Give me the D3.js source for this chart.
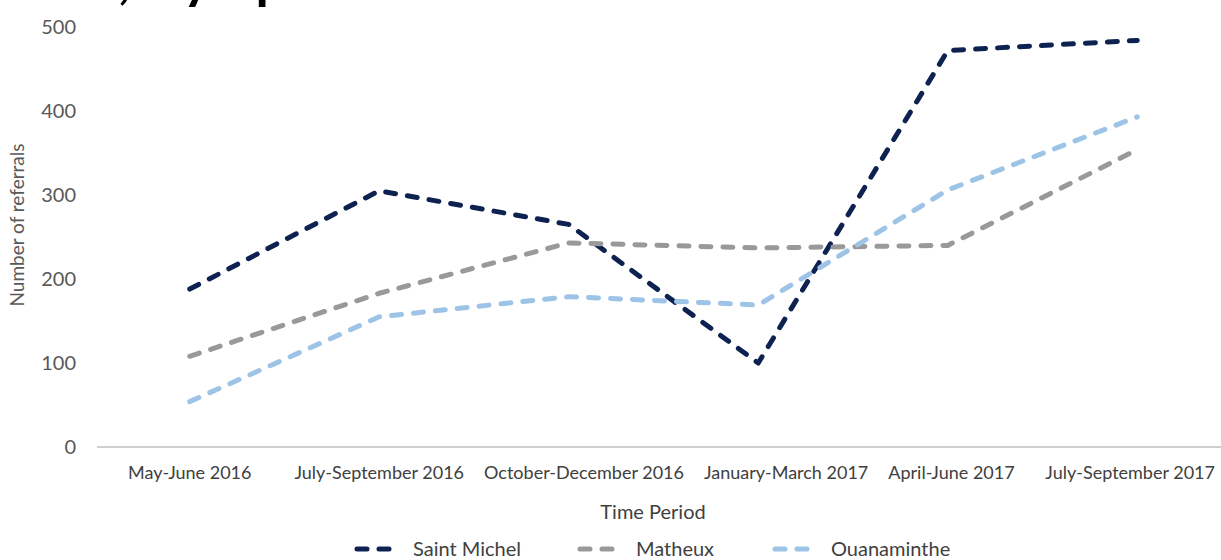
<!DOCTYPE html>
<html>
<head>
<meta charset="utf-8">
<script src="https://cdnjs.cloudflare.com/ajax/libs/d3/7.8.5/d3.min.js"></script>
<style>
  body { margin: 0; background: #fff; }
  svg { display: block; font-family: Lato, "Open Sans", sans-serif; }
</style>
</head>
<body>
<svg id="chart" width="1221" height="560"></svg>
<script>
// data
var periods = ["May-June 2016", "July-September 2016", "October-December 2016",
               "January-March 2017", "April-June 2017", "July-September 2017"];
var saintMichel = [188, 305, 265, 100, 472, 484];
var matheux     = [108, 183, 243, 237, 240, 354];
var ouanaminthe = [54, 155, 179, 169, 306, 393];
var seriesNames = ["Saint Michel", "Matheux", "Ouanaminthe"];
var seriesColors = ["#0e2251", "#999999", "#9dc3e6"];
var yTicks = [0, 100, 200, 300, 400, 500];

var svg = d3.select("#chart");
var W = 1221;

var x = d3.scalePoint().domain(periods).range([95, 1232]).padding(0.5);
var y = d3.scaleLinear().domain([0, 500]).range([447, 27]);

// title, cut off at the top edge as in the source image (only descenders show)
svg.append("text")
    .attr("x", 118).attr("y", -2)
    .attr("text-anchor", "start")
    .style("font-size", "54px").style("font-weight", "bold")
    .style("letter-spacing", "3px").attr("fill", "#000")
    .text(", by specialist");

// y tick labels
svg.selectAll(".ytick").data(yTicks).enter().append("text")
    .attr("class", "ytick")
    .attr("x", 76).attr("y", function(d) { return y(d); })
    .attr("dy", "0.35em")
    .attr("text-anchor", "end")
    .attr("fill", "#595959")
    .style("font-size", "20px")
    .text(function(d) { return d; });

svg.append("text")
    .attr("transform", "translate(24," + 225 + ") rotate(-90)")
    .attr("text-anchor", "middle")
    .attr("fill", "#595959")
    .style("font-size", "19px")
    .text("Number of referrals");

// x axis line
svg.append("line")
    .attr("x1", 97).attr("x2", W)
    .attr("y1", y(0)).attr("y2", y(0))
    .attr("stroke", "#bfbfbf").attr("stroke-width", 1.5);

// x tick labels, pushed apart like the spreadsheet does when they would collide
var xl = svg.selectAll(".xtick").data(periods).enter().append("text")
    .attr("class", "xtick")
    .attr("y", 479)
    .attr("text-anchor", "middle")
    .attr("fill", "#404040")
    .style("font-size", "18px")
    .text(function(d) { return d; });

var gap = 20, rightEdge = 1215;
var boxes = [];
xl.each(function(d) {
  var w = this.getComputedTextLength();
  boxes.push({ c: x(d), w: w });
});
for (var i = 1; i < boxes.length; i++) {
  var prevEnd = boxes[i-1].c + boxes[i-1].w / 2;
  var start = boxes[i].c - boxes[i].w / 2;
  if (start < prevEnd + gap) boxes[i].c = prevEnd + gap + boxes[i].w / 2;
}
var last = boxes[boxes.length - 1];
if (last.c + last.w / 2 > rightEdge) last.c = rightEdge - last.w / 2;
xl.attr("x", function(d, i) { return boxes[i].c; });

svg.append("text")
    .attr("x", 653).attr("y", 519)
    .attr("text-anchor", "middle")
    .attr("fill", "#404040")
    .style("font-size", "20px")
    .text("Time Period");

// lines
var allSeries = [saintMichel, matheux, ouanaminthe];
var line = d3.line()
    .x(function(d, i) { return x(periods[i]); })
    .y(function(d) { return y(d); });

svg.selectAll(".series").data(allSeries).enter().append("path")
    .attr("class", "series")
    .attr("d", line)
    .attr("fill", "none")
    .attr("stroke", function(d, i) { return seriesColors[i]; })
    .attr("stroke-width", 5)
    .attr("stroke-linecap", "round")
    .attr("stroke-linejoin", "round")
    .attr("stroke-dasharray", "10,12");

// legend
var legendX = [355, 578, 773];
var lg = svg.selectAll(".leg").data(seriesNames).enter().append("g")
    .attr("class", "leg")
    .attr("transform", function(d, i) { return "translate(" + legendX[i] + ",549)"; });
lg.append("line")
    .attr("x1", 2).attr("x2", 44).attr("y1", 0).attr("y2", 0)
    .attr("stroke", function(d, i) { return seriesColors[i]; })
    .attr("stroke-width", 5)
    .attr("stroke-linecap", "round")
    .attr("stroke-dasharray", "10,12");
lg.append("text")
    .attr("x", 58).attr("y", 0).attr("dy", "0.35em")
    .attr("fill", "#404040")
    .style("font-size", "20px")
    .text(function(d) { return d; });
</script>
</body>
</html>
